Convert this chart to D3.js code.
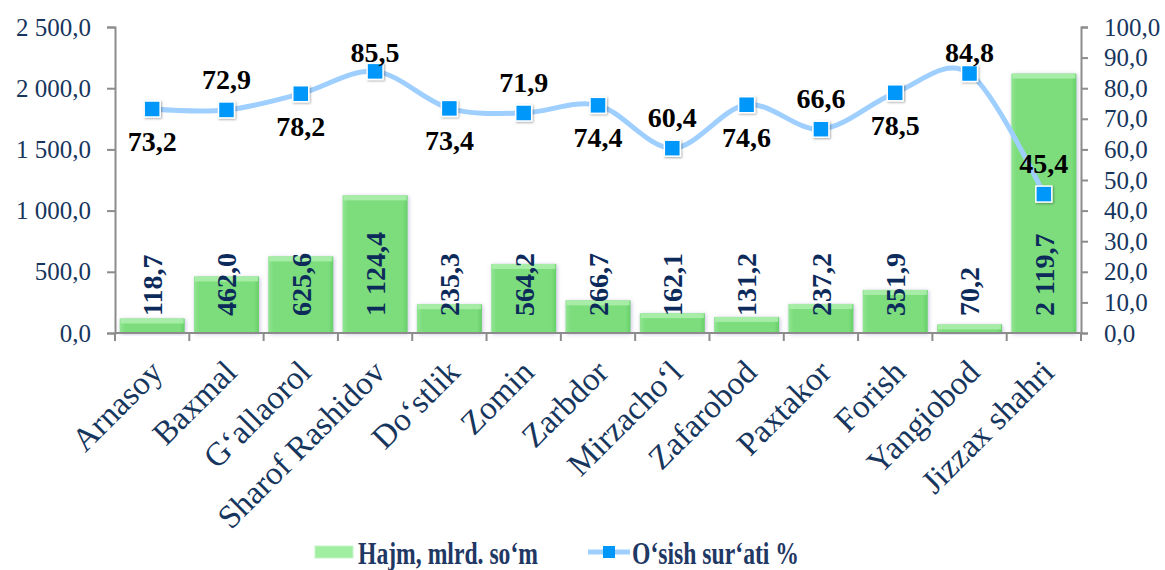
<!DOCTYPE html>
<html>
<head>
<meta charset="utf-8">
<script src="https://cdn.jsdelivr.net/npm/d3@7"></script>
<style>
  body { margin: 0; background: #fff; }
  svg { display: block; font-family: 'Liberation Serif', 'Times New Roman', serif; }
</style>
</head>
<body>
<div id="chart"></div>
<script>
// --- Données ---
const districts = ["Arnasoy", "Baxmal", "G‘allaorol", "Sharof Rashidov", "Do‘stlik", "Zomin",
  "Zarbdor", "Mirzacho‘l", "Zafarobod", "Paxtakor", "Forish", "Yangiobod", "Jizzax shahri"];
const volume = [118.7, 462.0, 625.6, 1124.4, 235.3, 564.2, 266.7, 162.1, 131.2, 237.2, 351.9, 70.2, 2119.7];
const growth = [73.2, 72.9, 78.2, 85.5, 73.4, 71.9, 74.4, 60.4, 74.6, 66.6, 78.5, 84.8, 45.4];
const growthLabelSide = ["below", "above", "below", "above", "below", "above", "below",
  "above", "below", "above", "below", "above", "above"];
const leftTicks = [0, 500, 1000, 1500, 2000, 2500];
const rightTicks = [0, 10, 20, 30, 40, 50, 60, 70, 80, 90, 100];
const legendLabels = ["Hajm, mlrd. so‘m", "O‘sish sur‘ati %"];

// --- Dimensions ---
const width = 1165;
const height = 570;
const margin = { top: 27, right: 84, bottom: 237, left: 115 };
const plotW = width - margin.left - margin.right;
const plotH = height - margin.top - margin.bottom;

const navy = "#17365d";
const axisGray = "#8c8c8c";
const serif = "'Liberation Serif', 'Times New Roman', serif";

const locale = d3.formatLocale({ decimal: ",", thousands: "\u00a0", grouping: [3] });
const fmt = locale.format(",.1f");

const svg = d3.select("#chart").append("svg")
  .attr("width", width)
  .attr("height", height);

const defs = svg.append("defs");

// dégradé des barres (effet biseau)
const grad = defs.append("linearGradient").attr("id", "barGrad")
  .attr("x1", 0).attr("x2", 1).attr("y1", 0).attr("y2", 0);
grad.append("stop").attr("offset", "0%").attr("stop-color", "#92e592");
grad.append("stop").attr("offset", "8%").attr("stop-color", "#7ddd7d");
grad.append("stop").attr("offset", "92%").attr("stop-color", "#7ddd7d");
grad.append("stop").attr("offset", "100%").attr("stop-color", "#66cf66");

const shadow = defs.append("filter").attr("id", "barShadow")
  .attr("x", "-20%").attr("y", "-20%").attr("width", "140%").attr("height", "140%");
shadow.append("feDropShadow").attr("dx", 1).attr("dy", 1).attr("stdDeviation", 2)
  .attr("flood-color", "#9a88c0").attr("flood-opacity", 0.55);

const markShadow = defs.append("filter").attr("id", "markShadow")
  .attr("x", "-40%").attr("y", "-40%").attr("width", "180%").attr("height", "180%");
markShadow.append("feDropShadow").attr("dx", 1).attr("dy", 1).attr("stdDeviation", 1.2)
  .attr("flood-color", "#000").attr("flood-opacity", 0.35);

const g = svg.append("g").attr("transform", `translate(${margin.left},${margin.top})`);

// --- Échelles ---
const x = d3.scaleBand().domain(districts).range([0, plotW]).paddingInner(0.125).paddingOuter(0.0625);
const xCenter = (d) => x(d) + x.bandwidth() / 2;
const yL = d3.scaleLinear().domain([0, 2500]).range([plotH, 0]);
const yR = d3.scaleLinear().domain([0, 100]).range([plotH, 0]);

// --- Barres ---
const bars = g.append("g").selectAll("g.bar")
  .data(districts.map((d, i) => ({ name: d, v: volume[i] })))
  .join("g").attr("class", "bar");

bars.append("rect")
  .attr("x", (d) => x(d.name))
  .attr("y", (d) => yL(d.v))
  .attr("width", x.bandwidth())
  .attr("height", (d) => plotH - yL(d.v))
  .attr("fill", "url(#barGrad)")
  .attr("filter", "url(#barShadow)");

// liseré clair en haut (biseau)
bars.append("rect")
  .attr("x", (d) => x(d.name) + 1)
  .attr("y", (d) => yL(d.v))
  .attr("width", x.bandwidth() - 2)
  .attr("height", (d) => Math.min(5, plotH - yL(d.v)))
  .attr("fill", "#aef0ae")
  .attr("opacity", 0.85);

// --- Axes ---
const axisLeft = d3.axisLeft(yL).tickValues(leftTicks).tickFormat(fmt).tickSize(8).tickPadding(16);
const axisRight = d3.axisRight(yR).tickValues(rightTicks).tickFormat(fmt).tickSize(7).tickPadding(16);

const gl = g.append("g").call(axisLeft);
const gr = g.append("g").attr("transform", `translate(${plotW},0)`).call(axisRight);

[gl, gr].forEach((a) => {
  a.attr("font-family", null);
  a.select(".domain").attr("stroke", axisGray).attr("stroke-width", 2);
  a.selectAll(".tick line").attr("stroke", axisGray).attr("stroke-width", 2);
  a.selectAll(".tick text")
    .style("font-family", serif)
    .style("font-size", "25px")
    .attr("fill", navy);
});

// axe du bas : ligne + graduations aux limites des catégories
const gb = g.append("g").attr("transform", `translate(0,${plotH})`);
gb.append("line").attr("x1", 0).attr("x2", plotW).attr("stroke", axisGray).attr("stroke-width", 2);
gb.selectAll("line.tk")
  .data(d3.range(districts.length + 1))
  .join("line").attr("class", "tk")
  .attr("x1", (i) => i * x.step()).attr("x2", (i) => i * x.step())
  .attr("y1", 0).attr("y2", 8)
  .attr("stroke", axisGray).attr("stroke-width", 2);

gb.selectAll("text.xl")
  .data(districts)
  .join("text").attr("class", "xl")
  .attr("transform", (d) => `translate(${xCenter(d) + 4},${33}) rotate(-45)`)
  .attr("text-anchor", "end")
  .attr("dy", "0.35em")
  .style("font-size", "33px")
  .attr("fill", navy)
  .text((d) => d);

// --- Étiquettes des barres ---
bars.append("text")
  .attr("transform", (d) => `translate(${xCenter(d.name)},${plotH - 17}) rotate(-90)`)
  .attr("dy", "0.35em")
  .attr("text-anchor", "start")
  .style("font-size", "28px")
  .style("font-weight", "bold")
  .attr("fill", "#0c2b5b")
  .text((d) => fmt(d.v));

// --- Courbe de croissance ---
const line = d3.line()
  .x((d) => xCenter(d.name))
  .y((d) => yR(d.v))
  .curve(d3.curveCardinal.tension(0));

const pts = districts.map((d, i) => ({ name: d, v: growth[i], side: growthLabelSide[i] }));

g.append("path")
  .datum(pts)
  .attr("d", line)
  .attr("fill", "none")
  .attr("stroke", "#9fcfff")
  .attr("stroke-width", 5);

g.append("g").selectAll("rect")
  .data(pts)
  .join("rect")
  .attr("x", (d) => xCenter(d.name) - 8)
  .attr("y", (d) => yR(d.v) - 8)
  .attr("width", 16)
  .attr("height", 16)
  .attr("fill", "#0097fb")
  .attr("stroke", "#fff")
  .attr("stroke-width", 1.5)
  .attr("filter", "url(#markShadow)");

g.append("g").selectAll("text")
  .data(pts)
  .join("text")
  .attr("x", (d) => xCenter(d.name))
  .attr("y", (d) => d.side === "above" ? Math.max(yR(d.v) - 31, 25) : yR(d.v) + 32)
  .attr("text-anchor", "middle")
  .attr("dy", "0.35em")
  .style("font-size", "28px")
  .style("font-weight", "bold")
  .attr("fill", "#000")
  .text((d) => fmt(d.v));

// --- Légende ---
const lg = svg.append("g").attr("transform", "translate(0,552)");
lg.append("rect").attr("x", 315).attr("y", -6).attr("width", 38).attr("height", 12)
  .attr("fill", "#a0eea0").attr("stroke", "#c8f4c8");
lg.append("text").attr("x", 358).attr("dy", "0.36em")
  .attr("textLength", 180).attr("lengthAdjust", "spacingAndGlyphs")
  .style("font-size", "32px").style("font-weight", "bold").attr("fill", "#1f3864")
  .text(legendLabels[0]);

lg.append("line").attr("x1", 588).attr("x2", 630).attr("stroke", "#9fcfff").attr("stroke-width", 5);
lg.append("rect").attr("x", 603).attr("y", -6).attr("width", 12).attr("height", 12)
  .attr("fill", "#0097fb");
lg.append("text").attr("x", 632).attr("dy", "0.36em")
  .attr("textLength", 167).attr("lengthAdjust", "spacingAndGlyphs")
  .style("font-size", "32px").style("font-weight", "bold").attr("fill", "#1f3864")
  .text(legendLabels[1]);
</script>
</body>
</html>
